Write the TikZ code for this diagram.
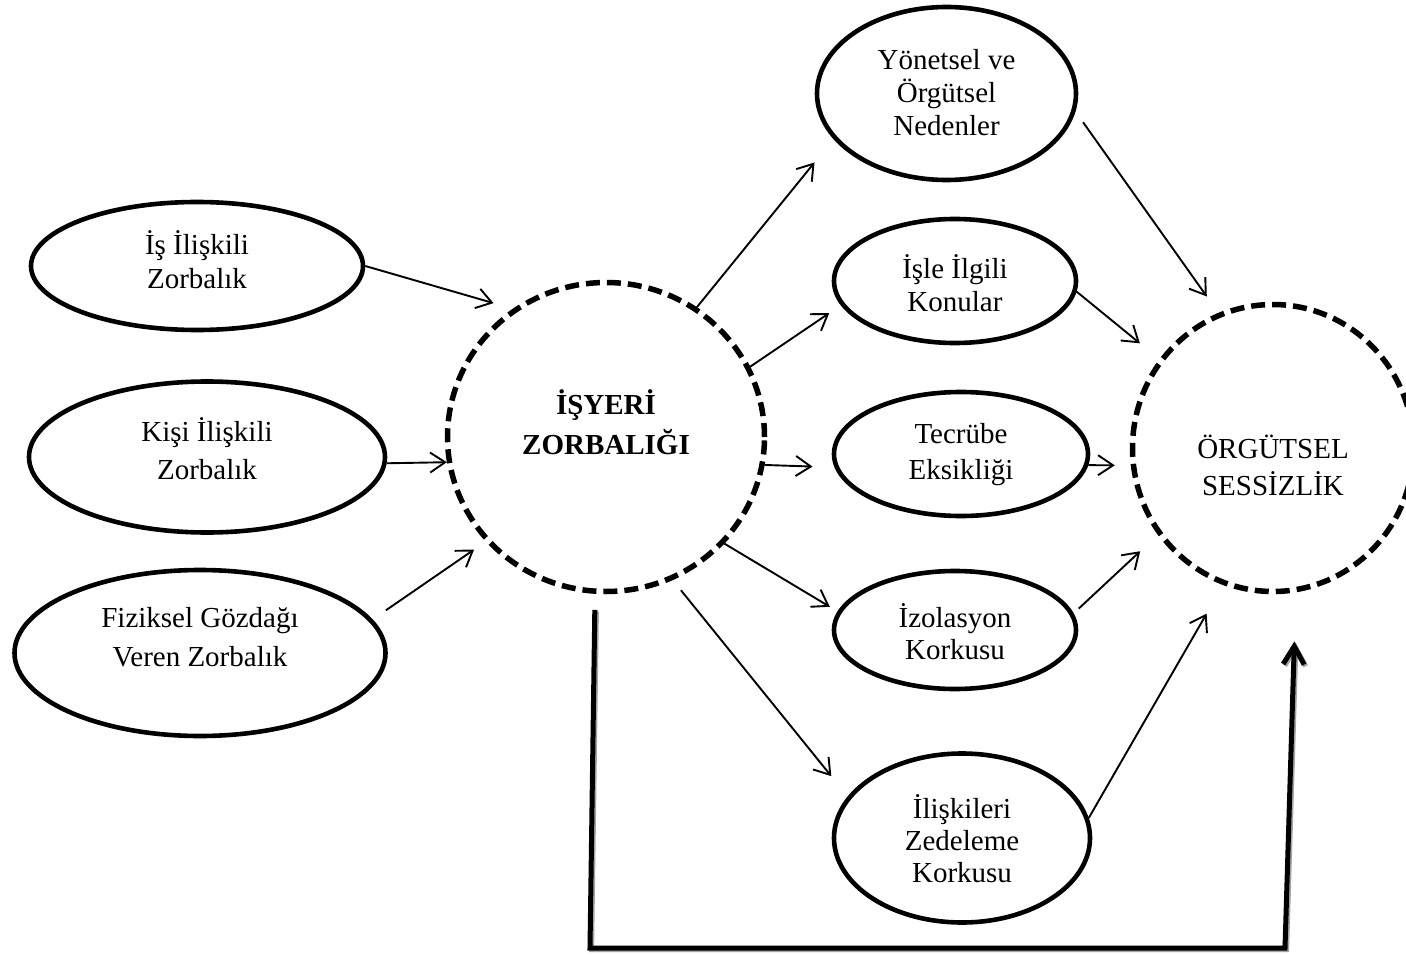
\documentclass[tikz,border=0pt]{standalone}
\usepackage{fontspec}
\setmainfont{Liberation Serif}
\usetikzlibrary{arrows.meta,shapes.geometric}
\begin{document}
\begin{tikzpicture}[x=1pt,y=-1pt,
  bub/.style={ellipse, draw, line width=4.6pt, inner sep=0pt},
  dbub/.style={ellipse, draw, line width=5.5pt, inner sep=0pt, dash pattern=on 14pt off 7pt},
  txt/.style={align=center, inner sep=0pt},
  arr/.style={line width=1.9pt, -{Straight Barb[length=15pt,width=20pt]}},
  fb/.style={line width=5pt, -{Straight Barb[length=18pt,width=21pt]}},
  fbshadow/.style={fb, draw=black!35, transform canvas={shift={(1.6pt,-1.6pt)}}}]
\useasboundingbox (0,0) rectangle (1406,955);
\clip (0,0) rectangle (1406,955);
\fill[white] (0,0) rectangle (1406,955);

% left ellipses
\node[bub, minimum width=332pt, minimum height=128pt,
  label={[name=e1t, txt, yshift=6pt, font=\fontsize{29}{34}\selectfont]center:İş İlişkili\\Zorbalık}] (e1) at (197,266) {};
\node[bub, minimum width=356pt, minimum height=151pt,
  label={[name=e2t, txt, yshift=8pt, font=\fontsize{29}{38}\selectfont]center:Kişi İlişkili\\Zorbalık}] (e2) at (207,457) {};
\node[bub, minimum width=371pt, minimum height=166pt,
  label={[name=e3t, txt, yshift=16pt, font=\fontsize{29}{39}\selectfont]center:Fiziksel Gözdağı\\Veren Zorbalık}] (e3) at (200,653) {};

% central circle
\node[dbub, minimum width=317pt, minimum height=309pt,
  label={[name=c1t, txt, yshift=15pt, font=\fontsize{29}{40}\selectfont\bfseries]center:İŞYERİ\\ZORBALIĞI}] (c1) at (606,437) {};

% right ellipses
\node[bub, minimum width=259pt, minimum height=173pt,
  label={[name=r1t, txt, yshift=1pt, font=\fontsize{29}{33}\selectfont]center:Yönetsel ve\\Örgütsel\\Nedenler}] (r1) at (946.5,93.5) {};
\node[bub, minimum width=242pt, minimum height=124pt,
  label={[name=r2t, txt, yshift=-2pt, font=\fontsize{29}{33}\selectfont]center:İşle İlgili\\Konular}] (r2) at (955,281) {};
\node[bub, minimum width=254pt, minimum height=124pt,
  label={[name=r3t, txt, yshift=-1pt, font=\fontsize{29}{36}\selectfont]center:Tecrübe\\Eksikliği}] (r3) at (961,454) {};
\node[bub, minimum width=242pt, minimum height=118pt,
  label={[name=r4t, txt, yshift=-2pt, font=\fontsize{29}{32}\selectfont]center:İzolasyon\\Korkusu}] (r4) at (955,630) {};
\node[bub, minimum width=256pt, minimum height=169pt,
  label={[name=r5t, txt, yshift=-1pt, font=\fontsize{29}{32}\selectfont]center:İlişkileri\\Zedeleme\\Korkusu}] (r5) at (962,838) {};

% outcome circle
\node[dbub, minimum width=281pt, minimum height=287pt,
  label={[name=c2t, txt, yshift=-17pt, font=\fontsize{29}{37}\selectfont]center:ÖRGÜTSEL\\SESSİZLİK}] (c2) at (1273,448) {};

% arrows into the central circle
\draw[arr, shorten >=20pt] (e1.0) -- (c1.126);
\draw[arr] (e2.-2) -- (c1.189);
\draw[arr, shorten <=16pt, shorten >=14pt] (e3.11) -- (c1.221);

% arrows out of the central circle
\draw[arr, shorten >=30pt] (c1.55) -- (r1.202);
\draw[arr, shorten >=14pt] (c1.26) -- (r2.192);
\draw[arr, shorten >=22pt] (c1.-10) -- (r3.186);
\draw[arr, shorten >=9pt] (c1.-42) -- (r4.171);
\draw[arr, shorten <=13pt, shorten >=26pt] (c1.-65) -- (r5.160);

% arrows into the outcome circle
\draw[arr, shorten <=13pt, shorten >=20pt] (r1.-8) -- (c2.112);
\draw[arr, shorten >=25pt] (r2.-5) -- (c2.142);
\draw[arr, shorten >=16pt] (r3.-5) -- (c2.187);
\draw[arr, shorten <=7pt, shorten >=24pt] (r4.8) -- (c2.217);
\draw[arr, shorten >=33pt] (r5.9) -- (c2.250);

% feedback connector
\coordinate (fbA) at (590,948);
\coordinate (fbB) at (1285,948);
\draw[fbshadow, shorten <=16pt, shorten >=49pt] (c1.266) -- (fbA) -- (fbB) -- (c2.279);
\draw[fb, shorten <=16pt, shorten >=49pt] (c1.266) -- (fbA) -- (fbB) -- (c2.279);
\end{tikzpicture}
\end{document}
